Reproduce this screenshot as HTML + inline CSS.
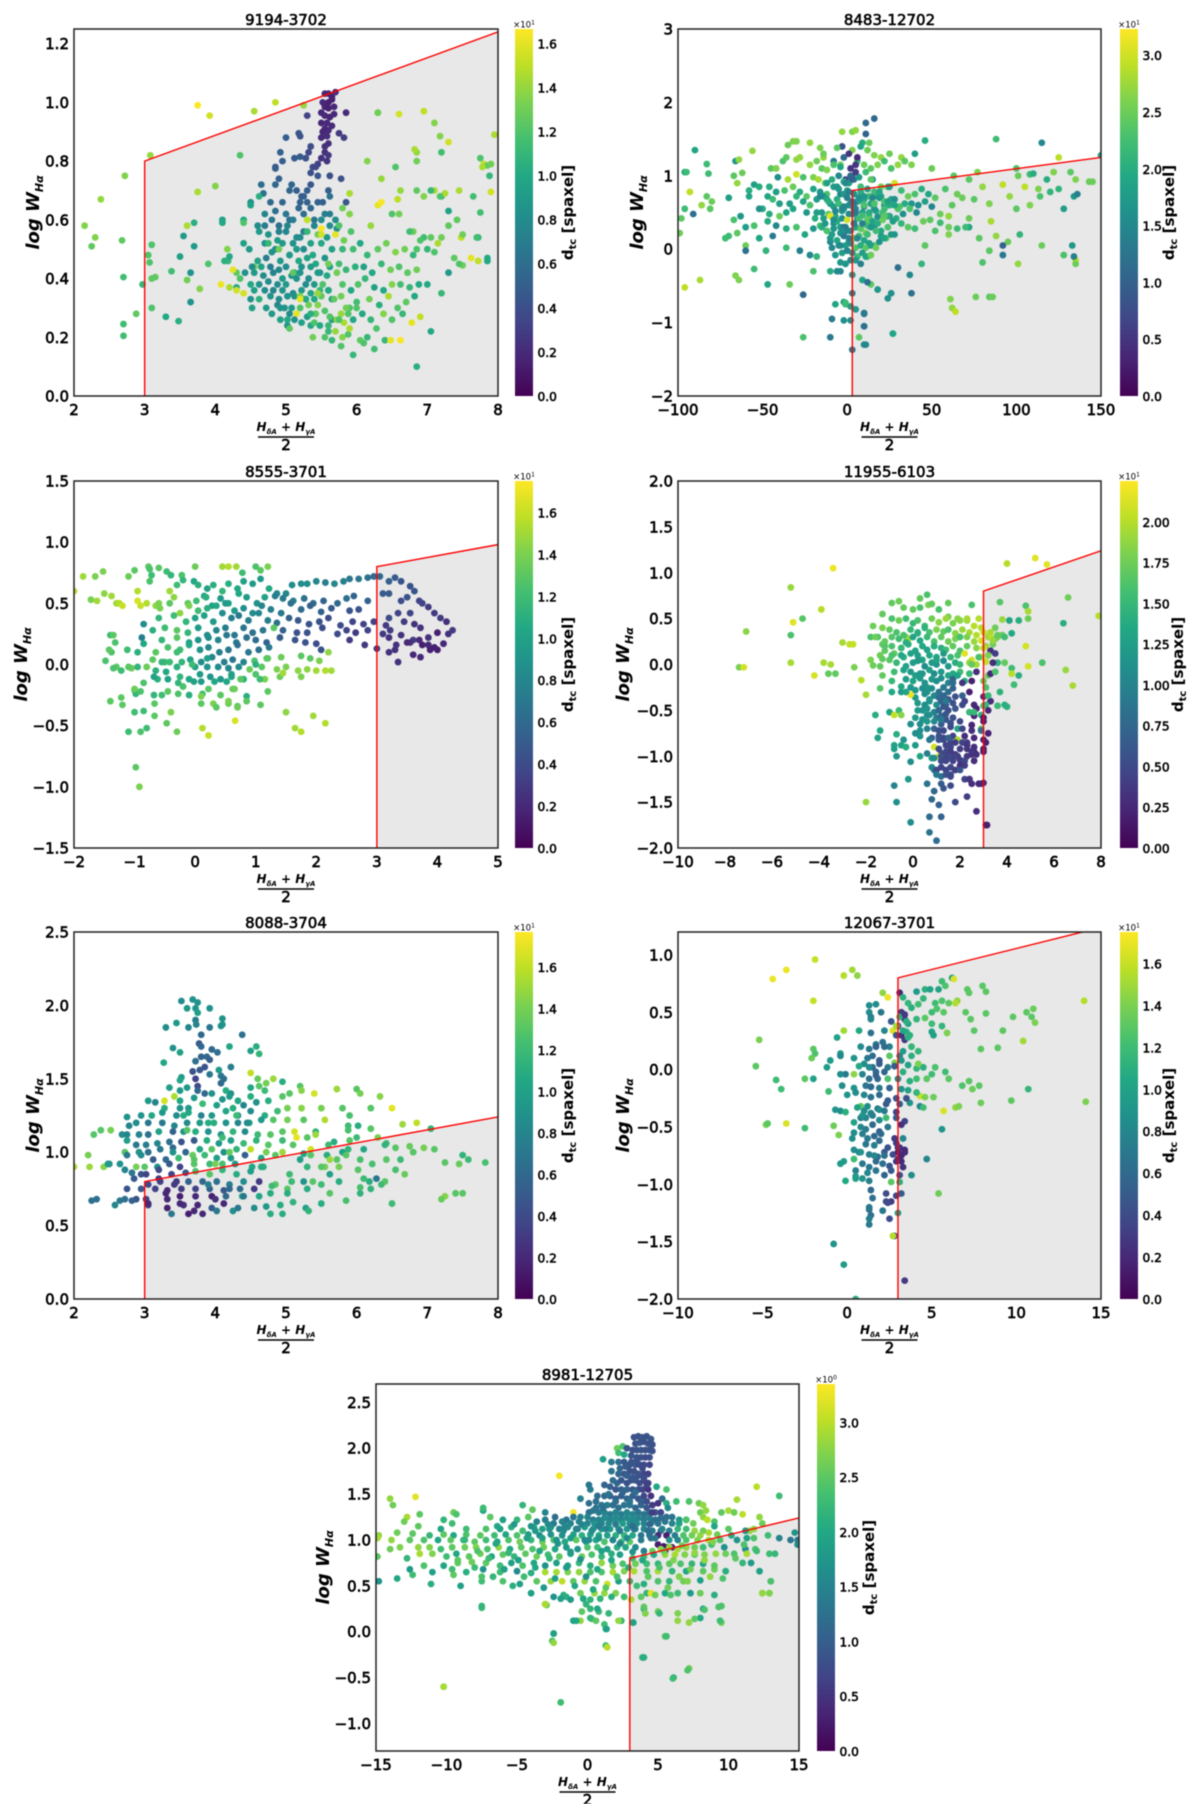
<!DOCTYPE html>
<html lang="en">
<head>
<meta charset="utf-8">
<title>Seven scatter panels of log W(H-alpha) against H-delta/H-gamma absorption</title>
<style>
html,body{margin:0;padding:0;background:#fff;}
#figure{display:block;width:1200px;height:1804px;filter:blur(.5px);}
text{font-family:"DejaVu Sans","Liberation Sans",sans-serif;fill:#000;}
.tick{font-size:15px;stroke:#000;stroke-width:.65px;}
.cb-tick{font-size:12.2px;stroke:#000;stroke-width:.55px;}
.title{font-size:15px;stroke:#000;stroke-width:.6px;}
.axis-label{font-style:italic;font-weight:bold;}
.cb-label{font-size:15px;font-weight:bold;}
.offset{font-size:8.5px;}
</style>
</head>
<body>
<svg id="figure" xmlns="http://www.w3.org/2000/svg" width="1200" height="1804" viewBox="0 0 1200 1804"><defs id="defs"></defs></svg>
<script>
/* ---------- data: panel 9194-3702 ---------- */
const p1Title = '9194-3702';
const p1XTicks = [2,3,4,5,6,7,8];
const p1YTicks = [0,0.2,0.4,0.6,0.8,1.0,1.2];
const p1CbTicks = [0,0.2,0.4,0.6,0.8,1.0,1.2,1.4,1.6];
const p1XRange = [2,8];
const p1YRange = [0,1.25];
const p1CbMax = 1.665;
const p1LineEnd = [8,1.24];
const p1X = [
5.55,5.6,5.65,5.7,5.52,5.6,5.65,5.55,5.6,5.68,
5.5,5.55,5.62,5.68,5.85,5.3,5.5,5.58,5.65,5.55,
5.52,5.6,5.58,5.5,5.75,5.82,5.18,5.2,5.6,5.55,
5.0,5.35,5.32,5.55,5.5,5.58,5.45,5.6,4.95,4.85,
4.92,5.12,5.2,5.28,4.85,5.38,5.35,5.42,5.62,5.78,
4.65,4.85,4.9,5.08,5.15,5.3,5.35,5.45,5.22,5.3,
4.68,4.78,5.05,5.2,5.25,5.35,5.45,5.6,5.62,5.9,
4.7,4.85,4.95,5.05,5.18,5.25,5.4,5.52,5.62,5.85,
4.5,4.8,4.9,5.0,5.1,5.25,5.4,5.55,5.62,5.7,
4.1,4.4,4.6,4.7,4.9,5.02,5.15,5.3,5.5,5.72,
4.48,4.62,4.75,4.88,5.0,5.1,5.2,5.35,5.45,5.58,
4.55,4.7,4.85,4.95,5.05,5.15,5.25,5.38,5.5,5.65,
4.4,4.6,4.72,4.8,4.92,5.05,5.18,5.3,5.42,5.55,
4.52,4.65,4.78,4.9,5.0,5.12,5.22,5.35,5.48,5.62,
4.42,4.55,4.68,4.82,4.95,5.08,5.2,5.32,5.45,5.58,
4.18,4.5,4.62,4.75,4.88,5.0,5.15,5.28,5.4,5.52,
4.3,4.55,4.7,4.82,4.95,5.1,5.22,5.35,5.48,5.6,
4.35,4.62,4.78,4.9,5.02,5.12,5.28,5.4,5.5,5.65,
4.2,4.4,4.52,4.72,4.88,4.98,5.08,5.2,5.32,5.45,
4.5,4.8,4.92,5.05,5.15,5.3,5.42,5.55,5.65,5.78,
4.92,5.02,5.12,5.22,5.35,5.48,5.6,5.72,5.82,5.95,
5.75,5.82,5.95,6.05,6.15,6.3,6.42,6.55,6.68,6.8,
5.72,5.85,5.98,6.1,6.22,6.35,6.48,6.6,6.72,6.85,
5.8,5.92,6.02,6.12,6.25,6.38,6.5,6.62,6.75,6.88,
5.68,5.78,5.9,6.0,6.18,6.32,6.45,6.58,6.7,6.82,
5.62,5.75,5.88,6.08,6.2,6.38,6.5,6.65,6.78,6.9,
5.02,5.28,5.4,5.6,5.8,5.88,6.05,6.15,6.28,6.4,
5.38,5.55,5.65,5.78,5.95,6.1,6.25,6.48,6.62,6.85,
7.05,7.0,7.2,7.3,7.38,7.5,7.62,7.72,7.85,7.95,
6.3,6.6,6.95,7.1,7.18,7.3,7.2,6.85,6.82,6.85,
7.75,7.8,7.85,7.9,7.78,7.88,7.9,7.65,7.75,7.45,
7.3,7.2,7.1,7.25,7.18,7.05,7.48,7.7,7.72,7.85,
7.42,7.5,7.2,7.15,7.1,7.05,7.0,6.95,6.9,6.85,
6.15,6.55,6.35,6.62,6.58,6.3,6.35,6.8,6.85,6.95,
6.2,7.3,5.9,5.8,6.5,6.75,6.6,7.45,5.2,5.5,
2.15,2.3,2.25,2.38,2.68,2.72,2.7,2.7,2.88,2.97,
2.7,3.08,3.1,3.1,3.05,3.07,3.15,3.1,3.3,3.38,
3.48,3.5,3.55,3.6,3.6,3.65,3.65,3.7,3.7,3.75,
3.75,3.92,4.0,3.78,3.9,4.08,4.13,4.17,4.2,4.1,
4.35,4.55,4.85,5.25,6.3,4.5,4.4,4.25,4.3,4.3,
4.9,5.1,5.3,5.5,5.6,5.8,5.85,5.7,5.2,6.0,
5.75,5.92,5.6,5.35,5.05,4.75,5.45,5.9,4.62,5.7
];
const p1Y = [
1.03,1.03,1.02,1.035,1.0,1.0,1.01,.985,.98,.985,
.965,.955,.95,.96,.965,.955,.93,.93,.92,.91,
.9,.905,.885,.88,.895,.88,.895,.885,.86,.85,
.88,.85,.83,.83,.81,.8,.79,.82,.8,.78,
.83,.81,.815,.81,.775,.78,.76,.78,.75,.74,
.72,.72,.74,.72,.7,.7,.72,.75,.68,.66,
.69,.66,.7,.66,.68,.64,.66,.7,.68,.69,
.62,.63,.66,.6,.64,.62,.6,.66,.62,.66,
.66,.6,.58,.62,.6,.56,.58,.62,.58,.6,
.6,.6,.58,.58,.56,.58,.54,.56,.6,.57,
.5,.56,.55,.53,.56,.52,.54,.52,.55,.54,
.44,.52,.5,.52,.48,.5,.5,.48,.52,.5,
.52,.46,.47,.49,.46,.48,.46,.47,.45,.47,
.44,.44,.44,.43,.44,.42,.44,.44,.42,.44,
.42,.42,.41,.42,.4,.41,.42,.4,.42,.41,
.46,.38,.38,.39,.38,.38,.4,.38,.38,.38,
.42,.36,.36,.36,.36,.35,.36,.35,.36,.36,
.4,.33,.34,.33,.34,.34,.33,.33,.34,.33,
.37,.35,.3,.3,.31,.3,.3,.3,.31,.31,
.33,.28,.3,.28,.28,.27,.28,.29,.26,.28,
.26,.24,.26,.25,.24,.24,.24,.26,.25,.26,
.58,.53,.5,.52,.48,.5,.52,.49,.5,.48,
.42,.43,.44,.44,.42,.45,.43,.44,.42,.43,
.38,.36,.38,.4,.37,.36,.38,.38,.37,.38,
.33,.34,.3,.32,.33,.31,.34,.3,.32,.34,
.27,.26,.28,.28,.26,.28,.26,.28,.25,.27,
.26,.33,.25,.22,.2,.21,.19,.2,.23,.19,
.2,.2,.19,.17,.14,.18,.16,.19,.19,.1,
.22,.38,.35,.42,.47,.445,.47,.54,.46,.89,
.965,.96,.97,.93,.885,.865,.83,.83,.84,.8,
.81,.79,.785,.79,.78,.75,.695,.68,.625,.7,
.63,.68,.7,.69,.68,.7,.54,.54,.46,.47,
.6,.55,.54,.52,.49,.54,.5,.54,.53,.5,
.8,.78,.74,.7,.67,.65,.66,.56,.7,.68,
.58,.58,.62,.64,.62,.56,.62,.45,.34,.57,
.58,.54,.51,.67,.53,.75,.405,.245,.28,.38,
.205,.82,.515,.40,.48,.455,.405,.30,.27,.425,
.255,.475,.545,.395,.58,.42,.32,.51,.59,.695,
.99,.955,.715,.365,.45,.38,.46,.5,.475,.59,
.82,.97,1.0,.99,.965,.65,.59,.43,.37,.36,
.5,.42,.6,.55,.45,.5,.3,.22,.33,.3,
.45,.56,.36,.28,.23,.52,.35,.23,.68,.55
];
const p1D = [
.2,.18,.15,.22,.2,.15,.15,.18,.15,.2,
.18,.2,.18,.2,.2,.32,.18,.2,.2,.2,
.18,.2,.22,.2,.28,.3,.45,.42,.22,.24,
.5,.38,.36,.24,.24,.25,.3,.28,.5,.45,
.52,.48,.48,.42,.5,.38,.4,.35,.4,.42,
.6,.55,.52,.55,.5,.5,.45,.45,.5,.5,
.62,.58,.55,.52,.5,.55,.52,.5,.62,1.45,
.75,.6,.55,.6,.55,.6,.65,.5,.7,.45,
.85,.65,.6,.65,.7,.7,.75,.7,.8,.8,
.95,1.0,.8,.7,.72,.75,.8,1.1,.8,.8,
.9,.9,.85,.9,.75,.85,.8,.95,1.3,.9,
1.3,.85,.8,.9,.95,.9,.8,1.0,1.0,.95,
.95,.95,.7,.85,.9,.9,1.0,.95,1.0,.85,
.8,.95,.7,.75,.8,.9,.85,.9,.85,.95,
.85,.9,.8,.75,.9,.85,.85,.8,.9,1.0,
1.1,1.0,.85,.8,.8,.9,.85,.8,.9,1.2,
1.25,.95,.8,.75,.85,.8,.9,.95,1.1,.85,
1.2,1.05,.85,.8,.85,.85,.8,1.0,1.25,.9,
1.45,1.55,.95,.9,.75,.85,.9,1.2,1.3,1.35,
.85,.9,.85,.8,1.6,.9,1.25,1.2,.95,1.4,
.95,.85,.85,.95,1.0,1.0,1.1,1.4,1.45,1.0,
1.2,1.3,1.15,1.0,1.1,1.25,1.3,1.35,1.3,1.1,
1.3,1.1,1.05,.95,1.0,1.1,1.3,1.2,1.25,1.3,
1.2,1.0,1.2,1.1,.95,1.0,1.35,1.15,1.1,1.0,
1.25,1.3,1.2,1.15,1.3,1.05,1.45,1.2,1.25,1.0,
1.2,1.2,1.2,1.0,1.1,1.35,1.2,1.1,1.6,1.5,
1.0,1.0,1.2,1.1,1.35,1.2,1.25,1.1,1.2,1.1,
1.3,1.2,1.1,1.2,1.1,1.2,1.15,1.6,1.65,1.05,
1.0,1.0,1.1,.9,1.25,1.3,1.6,1.1,1.0,1.45,
1.25,1.55,1.5,1.35,1.35,1.55,1.15,1.4,1.45,1.3,
1.2,1.5,1.25,1.3,1.45,1.1,1.55,1.15,1.15,1.45,
.95,1.1,1.45,1.45,1.2,1.1,1.5,1.15,1.5,1.0,
1.25,1.3,1.3,1.45,1.2,1.25,1.1,1.15,1.2,1.2,
1.35,1.2,1.4,1.4,1.5,1.6,1.65,1.3,1.25,1.35,
1.4,1.25,1.35,1.3,1.2,1.15,1.3,1.2,1.35,1.65,
1.35,1.35,1.25,1.4,1.25,1.35,1.15,1.15,1.25,1.1,
1.15,1.4,1.2,1.25,1.2,1.2,1.25,1.2,1.0,1.15,
1.05,.95,.9,1.3,1.45,.85,.85,.9,1.05,1.45,
1.66,1.55,1.35,1.35,1.2,1.62,1.05,1.35,1.0,1.0,
1.2,1.45,1.5,1.4,1.3,.95,1.2,1.6,1.0,1.55,
1.3,1.25,1.5,1.55,1.3,1.1,1.3,1.4,1.6,1.2,
1.15,1.2,1.0,1.05,1.25,1.1,1.4,1.45,1.05,1.6
];

/* ---------- data: panel 8483-12702 ---------- */
const p2Title = '8483-12702';
const p2XTicks = [-100,-50,0,50,100,150];
const p2YTicks = [-2,-1,0,1,2,3];
const p2CbTicks = [0,0.5,1.0,1.5,2.0,2.5,3.0];
const p2XRange = [-100,150];
const p2YRange = [-2,3];
const p2CbMax = 3.23;
const p2LineEnd = [150,1.25];
const p2X = [
16,11,11,3,-3,9,5,13,-14,-4,
-90,-32,-30,-35,-22,-16,-14,-8,-3,3,
-6,-2,1,8,12,16,20,25,32,34,
-96,-83,-66,-64,-56,-45,-42,-38,-36,-30,
-28,-22,-18,-15,-12,-8,-4,2,6,10,
14,18,22,26,30,34,38,40,46,50,
-95,-82,-67,-62,-55,-46,-41,-35,-30,-26,
-20,-17,-13,-9,-5,-1,3,7,11,15,
-93,-83,-65,-58,-52,-47,-42,-37,-32,-28,
-24,-20,-16,-12,-8,-4,0,4,8,12,
16,20,24,28,32,36,40,44,48,52,
-96,-86,-80,-70,-58,-50,-44,-40,-34,-30,
-26,-22,-18,-14,-10,-6,-2,2,6,10,
14,18,22,26,30,34,38,42,46,50,
-98,-91,-81,-67,-63,-52,-46,-40,-36,-32,
-24,-19,-15,-11,-7,-3,1,5,9,13,
17,21,25,29,33,37,41,45,49,55,
-99,-72,-65,-60,-55,-47,-42,-36,-30,-25,
-20,-16,-12,-8,-4,0,4,8,12,16,
20,24,28,32,36,40,52,60,65,72,
-16,-12,-8,-5,-2,1,4,7,10,13,
16,19,22,25,28,31,-14,-10,-6,-3,
0,3,6,9,12,15,18,21,24,27,
-12,-8,-4,-1,2,5,8,11,14,17,
20,23,26,-10,-6,-2,1,4,7,10,
13,16,19,22,-9,-5,-1,2,5,8,
11,14,17,-7,-3,0,3,6,9,12,
-4,-1,2,5,8,11,14,-2,1,4,
63,77,88,100,115,125,135,143,118,108,
65,72,80,92,101,110,122,132,145,62,
58,68,75,84,96,105,113,125,134,150,
100,108,114,120,128,136,55,60,72,85,
60,70,78,88,95,102,115,128,135,84,
-70,-60,-52,-44,-60,-48,-36,-28,-22,-18,
-96,-87,-66,-64,-55,-47,-34,-20,-6,-1,
-10,-4,3,9,14,18,3,12,-26,26,
-2,-1,2,5,10,-9,2,10,7,11,
38,27,24,30,37,44,46,61,62,64,
76,84,86,101,135,134,133,92,92,80,
3,-10,-26,10,27,-2,10,10,-7,-1,
-15,-8,-3,4,10,16,22,28,-6,8,
0,-2,6,12,18,24,-12,2,14,-18,
5,1,9,15,20,-10,-4,3,7,-1,
5,5,6,3,-13,-11,-9,-7,-5,-3,
-2,1,4,7,10,13,16,19,22,25
];
const p2Y = [
1.78,1.72,1.57,1.6,1.6,1.45,1.62,1.45,1.25,1.15,
1.35,1.47,1.47,1.42,1.45,1.38,1.3,1.2,1.4,1.35,
1.38,1.25,1.3,1.4,1.35,1.28,1.25,1.3,1.25,1.2,
1.05,1.16,1.2,1.22,1.34,1.1,1.1,1.2,1.25,1.22,
1.25,1.15,1.2,1.1,1.08,1.15,1.12,1.1,1.2,1.15,
1.1,1.15,1.2,1.1,1.15,1.2,1.15,1.3,1.48,1.1,
1.05,1.03,1.0,1.04,.88,.85,.98,.95,1.02,.98,
.98,.95,.9,.95,1.0,.95,.98,.98,1.05,.95,
.78,.72,.9,.8,.85,.72,.78,.8,.85,.78,
.72,.82,.78,.75,.85,.75,.8,.75,.78,.82,
.78,.72,.85,.9,.8,.72,.75,.82,.75,.7,
.55,.6,.65,.7,.72,.55,.68,.62,.62,.72,
.65,.6,.68,.72,.62,.68,.55,.62,.65,.68,
.62,.72,.6,.68,.55,.62,.62,.6,.65,.58,
.42,.48,.55,.4,.45,.55,.48,.45,.5,.55,
.5,.42,.5,.48,.45,.52,.48,.55,.5,.45,
.52,.5,.45,.42,.48,.55,.5,.38,.4,.36,
.22,.15,.22,.3,.32,.38,.32,.28,.3,.2,
.28,.32,.25,.35,.3,.25,.35,.28,.32,.3,
.25,.3,.2,.35,.3,.28,.25,.3,.28,.3,
.72,.68,.58,.62,.75,.6,.55,.66,.58,.72,
.62,.7,.65,.6,.68,.58,.42,.45,.38,.42,
.4,.48,.42,.46,.4,.38,.44,.4,.45,.38,
.25,.28,.22,.3,.25,.3,.28,.22,.3,.25,
.18,.15,.2,.1,.12,.18,.1,.15,.18,.12,
.08,.05,.1,.15,.02,.05,.05,.08,.02,.05,
.02,.05,.02,-.08,-.05,-.02,-.05,-.1,-.05,-.1,
-.18,-.2,-.15,-.15,-.2,-.1,-.08,.92,.9,.95,
1.0,1.05,1.5,1.1,1.45,1.25,.95,.92,.95,1.02,
.75,.95,.85,.88,1.0,1.03,1.05,1.05,.92,.6,
.82,.7,.68,.62,.72,.85,.82,.82,.72,1.28,
.55,.6,.72,.78,.55,.75,.48,.45,.42,.38,
.2,.3,.15,.18,.1,.2,.05,-.08,-.15,-.02,
.18,.05,.15,.18,-.02,-.02,.02,-.02,-.08,-.1,
-.52,-.42,-.36,-.42,-.27,-.48,-.48,-.3,-.3,-.2,
-.3,-.3,-.35,-.42,-.48,-.55,-.6,-.45,-.62,-.6,
-.72,-.75,-.78,-.82,-.88,-.95,-.97,-1.05,-1.2,-1.3,
-.6,-1.15,-.67,-.25,-.35,-.2,.05,-.68,-.8,-.85,
-.65,-.65,-.65,-.2,-.2,-.1,.05,.05,-.08,-.18,
-1.37,-1.2,-1.2,-1.3,-1.15,-.97,-1.05,-.87,-.75,-.73,
.3,.4,.55,.35,.6,.55,.45,.6,.85,.85,
.7,.3,.15,.2,.35,.65,.9,1.0,.95,.5,
.5,.15,.35,.7,.85,.15,.05,.65,.7,.9,
1.15,1.05,1.25,.95,.35,.65,.2,.52,.82,.25,
.58,.78,.62,.42,.72,.5,.62,.78,.55,.85
];
const p2D = [
1.1,1.1,1.05,2.6,2.7,2.0,2.7,2.5,2.7,2.5,
1.9,2.6,2.6,2.5,2.7,2.6,2.5,1.3,.8,2.6,
2.4,1.1,.5,1.9,2.5,2.6,2.7,2.5,2.7,2.4,
1.9,2.2,1.7,2.7,2.7,2.4,2.6,2.3,2.4,2.7,
2.7,2.7,2.5,2.4,2.6,2.3,1.9,.5,2.2,2.5,
2.4,2.6,2.2,2.3,2.7,2.4,2.6,1.8,2.0,2.5,
2.2,2.2,2.4,2.5,1.8,2.0,1.6,2.8,3.0,2.3,
2.6,2.8,2.5,2.0,1.5,.7,.5,1.8,2.2,1.6,
2.9,2.4,2.7,2.0,2.0,1.9,1.8,2.3,2.5,2.0,
2.4,1.9,1.7,2.3,1.8,1.5,1.9,1.6,2.0,1.8,
2.2,1.9,2.3,3.0,2.2,2.5,2.3,2.0,1.9,2.4,
2.2,2.7,2.5,1.8,1.9,2.0,2.2,1.8,1.8,2.1,
1.9,2.3,1.8,1.6,1.7,2.0,1.8,1.6,1.9,2.0,
1.8,2.1,1.7,1.9,2.3,2.0,1.7,1.6,1.8,1.5,
2.4,1.2,2.4,2.3,1.7,1.6,2.0,2.5,1.9,1.9,
1.7,2.0,1.7,2.4,1.9,1.8,1.5,1.7,1.8,2.3,
1.9,2.2,1.7,2.0,1.6,2.3,1.5,2.5,2.4,2.2,
2.5,2.2,2.4,1.8,2.3,2.0,1.5,2.0,2.3,1.9,
1.7,2.3,2.6,1.6,1.8,1.5,1.7,1.9,2.2,1.6,
1.9,2.3,1.7,2.1,2.4,2.2,2.3,2.5,2.2,1.9,
1.5,1.9,1.8,2.2,1.7,1.6,1.4,1.8,1.5,2.2,
2.4,1.7,2.3,2.0,1.6,2.3,1.8,3.1,2.0,1.6,
3.0,1.5,1.8,2.2,2.4,1.9,1.6,2.5,2.0,1.8,
2.3,1.7,1.6,1.4,1.5,1.8,2.4,2.5,1.7,2.2,
1.8,2.4,1.7,1.5,1.9,1.3,1.7,2.5,2.2,1.9,
1.8,2.4,1.6,1.9,1.5,1.7,1.8,1.6,2.3,2.0,
2.4,1.8,2.5,1.7,1.8,1.5,1.6,2.2,1.8,2.4,
1.7,1.6,1.5,1.7,1.4,1.9,2.5,2.0,1.8,1.6,
2.4,2.6,2.2,2.3,1.5,2.9,2.6,2.5,2.0,2.2,
2.5,2.4,2.7,2.9,2.5,2.0,2.6,2.4,2.5,2.4,
2.3,2.5,2.4,2.6,2.7,2.9,2.6,2.1,1.7,1.8,
2.4,2.6,2.3,2.1,1.8,1.4,2.5,2.7,2.5,2.8,
2.6,2.2,2.4,2.7,2.5,2.1,2.5,2.3,2.9,2.4,
2.2,2.5,1.9,1.3,1.2,2.1,2.2,1.4,1.5,2.1,
2.9,2.8,2.6,2.6,2.2,1.9,2.5,2.3,1.5,1.7,
2.0,1.5,1.7,1.9,2.4,1.7,1.4,1.2,1.1,1.6,
1.8,2.2,1.8,1.7,1.2,1.3,1.6,1.8,2.4,1.5,
1.2,1.9,1.6,1.2,1.5,2.1,2.4,2.6,2.7,2.9,
2.5,2.4,2.5,2.7,2.5,1.4,1.7,1.0,1.3,2.3,
1.3,1.3,2.3,1.5,1.9,1.6,1.2,1.3,1.9,2.2,
2.0,1.6,1.5,1.4,2.3,1.7,2.4,1.9,1.7,2.2,
1.4,1.3,1.5,2.2,2.0,1.8,1.8,1.1,2.4,1.8,
1.3,1.4,1.4,1.5,2.5,1.7,1.5,1.3,1.6,1.5,
.5,.6,.4,1.0,1.7,2.0,1.8,1.5,1.7,1.6,
1.5,1.4,1.3,2.2,1.7,2.0,2.3,1.9,2.2,1.8
];

/* ---------- data: panel 8555-3701 ---------- */
const p3Title = '8555-3701';
const p3XTicks = [-2,-1,0,1,2,3,4,5];
const p3YTicks = [-1.5,-1.0,-0.5,0,0.5,1.0,1.5];
const p3CbTicks = [0,0.2,0.4,0.6,0.8,1.0,1.2,1.4,1.6];
const p3XRange = [-2,5];
const p3YRange = [-1.5,1.5];
const p3CbMax = 1.75;
const p3LineEnd = [5,0.98];
const p3X = [
-2,-1.85,-1.65,-1.52,-1.1,-1,-.77,-.6,-.47,-.22,
0,.45,.55,.68,1,1.2,1.08,.78,-.75,-.72,
-1.72,-1.62,-1.5,-1.38,-1.28,-.95,-.75,-.4,-.3,-.2,
-1.3,-1.25,-1.2,-.95,-.9,-.8,-.65,-.6,-.42,-.35,
-.02,.05,.2,.3,.45,.55,.7,.8,.95,1.08,
1.22,1.35,1.5,1.6,1.75,1.85,2,2.15,2.3,2.45,
2.55,2.7,2.85,2.95,3.05,3.2,3.3,3.4,3.55,.15,
-.12,.02,.18,.28,.42,.55,.72,.85,1.02,1.15,
1.32,1.45,1.62,1.8,1.95,2.12,2.35,2.5,2.62,2.85,
3.1,3.2,3.4,3.5,3.62,3.7,-.58,-.42,-.25,-.1,
.05,.2,.35,.5,.65,.8,.95,1.1,1.25,1.42,
1.58,1.75,1.9,2.08,2.25,2.55,2.7,3.2,3.35,3.55,
3.75,3.85,-.85,-.6,-.35,-.15,0,.15,.3,.45,
.6,.72,.88,1.05,1.2,1.35,1.55,1.7,1.88,2.05,
2.2,2.4,2.6,2.78,2.95,3.15,3.45,3.62,3.95,4.05,
4.15,4.25,-.88,-.7,-.5,-.3,-.12,.05,.2,.35,
.5,.65,.8,.95,1.12,1.3,1.45,1.68,1.85,2.1,
2.35,2.5,2.65,2.85,3.1,3.22,3.4,3.6,3.72,3.85,
4.0,4.18,-1.4,-1.32,-.85,-.55,-.3,-.1,.05,.22,
.38,.52,.68,.85,1,1.18,1.4,1.65,1.82,2.0,
2.55,2.8,3.0,3.2,3.32,3.55,3.7,3.85,3.95,4.1,
-1.38,-1.12,-.95,-.65,-.45,-.25,-.1,.08,.22,.4,
.55,.7,.88,1.05,1.22,1.75,2.08,3.3,3.5,3.75,
3.88,4.0,-1.48,-1.3,-1.05,-.95,-.7,-.5,-.3,-.08,
.1,.28,.48,.62,.8,.98,1.18,1.42,1.9,2.05,
2.2,3.2,3.35,3.6,3.72,-1.1,-.8,-.65,-.42,-.22,
0,.2,.38,.55,.72,.9,1.1,1.35,1.5,1.7,
1.85,2.0,-.62,-.45,-.25,-.1,.08,.25,.42,.6,
.8,1.0,1.15,1.4,-1.35,-1.22,-.68,-.48,-.28,-.02,
.1,.32,.52,.75,1.07,1.75,2.15,2.25,-1.0,-.85,
-.45,-.2,.12,.22,.65,-.98,-1.0,-.9,-.67,-.4,
.1,.3,.55,.7,.85,1.5,1.65,1.75,1.95,2.15,
-.92,-.98,-1.0,-.85,-1.1,-.9,-.8,-.67,-.47,-.3,
.12,.22,.66,-1.4,-1.22,-1.2,-.68,-.55,-.28,.1,
.35,.55,.7,.85,1.08,1.2,.62,.42,-.1,-.2,
-1.42,-1.35,-.55,-.3,-.05,.2,.6,1,1.2,1.45
];
const p3Y = [
.6,.72,.72,.76,.72,.77,.8,.79,.76,.73,
.8,.8,.8,.8,.8,.8,.77,.75,.78,.73,
.53,.52,.58,.56,.5,.6,.68,.73,.65,.69,
.5,.5,.48,.52,.48,.5,.48,.5,.6,.55,
.68,.65,.62,.65,.6,.66,.62,.68,.66,.7,
.62,.58,.58,.65,.66,.66,.68,.67,.66,.68,
.7,.7,.71,.72,.72,.68,.71,.68,.64,.56,
.5,.52,.55,.48,.54,.5,.58,.55,.5,.55,
.56,.54,.52,.54,.5,.52,.5,.54,.56,.52,
.58,.58,.52,.55,.6,.52,.46,.5,.42,.48,
.44,.46,.48,.5,.44,.46,.42,.48,.45,.42,
.5,.45,.48,.43,.46,.44,.45,.38,.42,.42,
.5,.47,.33,.38,.4,.35,.38,.4,.35,.42,
.38,.4,.36,.42,.36,.34,.38,.36,.33,.35,
.38,.32,.35,.33,.35,.32,.35,.33,.42,.38,
.35,.28,.22,.28,.3,.28,.26,.3,.24,.28,
.3,.24,.3,.26,.28,.3,.28,.26,.26,.3,
.25,.28,.26,.28,.25,.28,.24,.2,.3,.22,
.26,.25,.24,.18,.17,.2,.22,.18,.2,.22,
.2,.24,.18,.22,.2,.18,.22,.2,.18,.17,
.2,.16,.13,.22,.16,.18,.2,.16,.14,.17,
.1,.12,.1,.1,.14,.12,.16,.12,.14,.1,
.12,.16,.1,.12,.14,.07,.12,.12,.18,.16,
.12,.12,.03,-.02,-.03,-.02,.04,.02,-.02,.04,
.02,.06,.02,.04,.02,.03,.05,.06,.05,.03,
.1,.1,.02,.08,.06,-.02,-.02,-.05,.02,.02,
-.02,-.02,-.02,-.03,-.02,-.04,-.02,-.04,-.02,-.05,
-.04,-.05,-.12,-.12,-.1,-.12,-.08,-.1,-.12,-.1,
-.12,-.08,-.12,-.1,-.03,-.05,-.1,-.06,-.15,-.14,
-.14,-.14,-.14,-.12,-.12,-.1,-.05,-.05,-.21,-.15,
-.22,-.18,-.24,-.2,-.2,-.24,-.2,-.22,-.32,-.39,
-.26,-.32,-.32,-.34,-.26,-.39,-.52,-.55,-.42,-.48,
-1.0,-.84,-.39,-.38,-.55,-.55,-.52,-.42,-.48,-.55,
-.52,-.58,-.46,-.3,-.27,-.33,-.25,-.25,-.24,-.32,
-.35,-.3,-.35,-.3,-.33,-.22,-.2,-.25,-.25,-.18,
.12,.24,.02,.1,0,.05,-.08,0,.05,-.07
];
const p3D = [
1.55,1.5,1.4,1.4,1.35,1.3,1.3,1.3,1.2,1.25,
1.35,1.5,1.55,1.5,1.25,1.4,1.3,1.2,1.25,1.2,
1.4,1.5,1.45,1.5,1.6,1.55,1.25,1.15,1.2,1.15,
1.5,1.55,1.6,1.65,1.6,1.55,1.45,1.4,1.5,1.45,
1.05,1.1,1.0,1.1,1.15,1.1,1.05,1.0,.95,.95,
1.05,.8,.8,.85,.85,.85,.8,.75,.8,.75,
.7,.7,.65,.6,.6,.55,.5,.45,.45,1.0,
1.3,1.2,1.1,1.0,.95,1.0,1.05,.95,.9,1.0,
.75,.7,.75,.65,.6,.55,.6,.65,.55,.55,
.5,.5,.4,.45,.45,.35,1.4,1.3,1.45,1.4,
1.2,1.1,1.05,.95,.95,.85,.85,.8,.75,.7,
.65,.6,.55,.55,.5,.45,.45,.4,.35,.35,
.35,.3,.85,1.15,1.2,1.15,1.0,1.0,.95,.85,
.75,.7,.75,.8,.75,.65,.55,.5,.45,.45,
.4,.4,.35,.35,.35,.3,.3,.25,.3,.3,
.25,.3,.75,1.1,1.2,1.3,1.15,.95,.85,.8,
.75,.7,.7,.65,.7,1.3,.55,.45,.45,.4,
.4,.35,.3,.35,.3,.3,.25,.3,.25,.25,
.15,.25,1.2,1.25,1.05,1.15,1.3,1.0,.9,.85,
.8,.7,.7,.65,.6,.55,.5,.45,.45,.4,
.3,.3,.3,.25,.25,.25,.2,.2,.15,.2,
1.25,1.2,1.1,1.3,1.25,1.2,1.05,.9,.8,.75,
.7,.65,.7,.65,.7,1.3,.45,.25,.2,.15,
.15,.15,1.25,1.3,1.35,1.15,1.3,1.2,1.1,1.0,
.85,.8,.75,.7,.8,1.25,1.3,1.35,1.3,1.4,
1.45,.25,.25,.2,.2,1.3,1.35,1.1,1.2,1.15,
1.0,.9,.85,.8,.85,1.35,1.3,1.4,1.4,1.45,
1.45,1.5,1.1,1.0,1.15,1.05,.95,.9,.95,1.0,
1.1,1.25,1.4,1.35,1.25,1.2,1.0,1.05,1.15,1.0,
.95,1.05,1.05,1.3,1.2,1.4,1.55,1.5,1.2,1.25,
1.3,1.35,1.2,1.3,1.35,1.15,1.35,1.25,1.3,1.4,
1.4,1.4,1.35,1.3,1.1,1.45,1.5,1.55,1.5,1.55,
1.4,1.3,1.2,1.2,1.2,1.25,1.2,1.3,1.3,1.35,
1.55,1.6,1.65,1.3,1.3,1.3,1.15,1.2,1.25,1.3,
1.3,1.4,1.35,1.3,1.3,1.3,1.35,1.3,1.1,1.25,
1.3,1.3,1.15,1.2,1.2,1.0,1.0,1.1,1.3,1.5
];

/* ---------- data: panel 11955-6103 ---------- */
const p4Title = '11955-6103';
const p4XTicks = [-10,-8,-6,-4,-2,0,2,4,6,8];
const p4YTicks = [-2.0,-1.5,-1.0,-0.5,0,0.5,1.0,1.5,2.0];
const p4CbTicks = [0,0.25,0.5,0.75,1.0,1.25,1.5,1.75,2.0];
const p4XRange = [-10,8];
const p4YRange = [-2,2];
const p4CbMax = 2.25;
const p4LineEnd = [8,1.24];
const p4X = [
-3.4,-5.2,-3.9,-5.1,-4.7,-7.1,-5.2,-5.2,-7.4,-7.2,
-3.8,-3.5,-3.3,-4.2,-3.6,-3,-2.7,-2.55,-2.5,-2.2,
-2,-1.8,-1.5,-1.3,-1.2,-1.4,-1.8,-1.7,-1.4,-1,
-.8,-.5,-.3,-.2,.6,.3,.65,1.5,2.5,-.9,
-.6,-.4,0,.3,.8,1.1,1.5,1.9,2.3,2.8,
-1.3,-.9,-.6,-.3,0,.2,.5,.8,1.1,1.4,
1.7,2,2.3,2.6,2.9,3.3,3.6,3.8,-1.7,-1.3,
-1,-.7,-.4,-.1,.2,.5,.7,1,1.3,1.5,
1.8,2.1,2.4,2.7,3,3.2,3.5,-1.6,-1.2,-.9,
-.6,-.3,0,.3,.6,.9,1.2,1.5,1.8,2,
2.3,2.6,2.9,3.1,3.4,-1.2,-.9,-.5,-.2,.1,
.4,.6,.9,1.2,1.4,1.7,2,2.3,2.7,3,
3.3,3.6,-1.3,-.9,-.4,-.1,.2,.4,.7,1,
1.3,1.6,1.9,2.2,2.5,2.9,3.2,3.5,-.7,-.3,
0,.2,.5,.8,1,1.3,1.5,1.8,2,2.4,
2.7,3.1,3.4,-1.3,-.8,-.4,-.1,.1,.4,.7,
.9,1.2,1.5,1.7,2,2.4,2.7,3.2,-.9,-.3,
0,.3,.5,.8,1,1.2,1.5,1.7,1.9,2.2,
3,3.3,-.5,-.1,.1,.4,.6,.8,1.1,1.3,
1.5,1.7,2.1,2.5,3.1,3.5,-1.4,-.9,-.5,.1,
.5,.7,.9,1.1,1.3,1.5,1.8,2.1,2.4,3,
-1.6,-1,-.1,.2,.5,.7,1,1.2,1.4,1.7,
2.2,2.7,3,3.3,.2,.4,.6,.9,1.1,1.3,
1.5,1.8,2.1,2.6,3.1,.1,.4,.7,1,1.2,
1.4,1.7,2.4,2.9,3,3.2,.3,.6,.9,1.2,
1.4,1.6,2,2.6,3,-.1,.3,.6,.9,1.1,
1.3,1.6,1.9,2.1,2.5,-1.4,-.7,-.4,.1,.3,
.8,1.1,1.3,1.7,2.2,2.5,2.9,3.2,-1.5,-.8,
.1,.7,1.1,1.3,1.6,1.9,2.1,2.3,2.6,3,
-.6,-.5,.9,1.1,1.4,1.6,1.8,2,2.3,2.6,
3.1,-.8,-.3,1.2,1.4,1.6,1.8,2.3,2.5,3,
-.5,.3,.8,1.1,1.4,1.6,1.9,2.3,2.6,3,
-.1,.6,.9,1.2,1.4,1.7,2,2.2,2.6,2.7,
-.8,-.7,.8,.9,1,1.2,1.4,1.6,1.8,2,
-.8,-.2,1,1.2,1.4,1.6,2,2.2,2.4,2.8,
2.9,3,-2,-.7,.6,.9,1.2,1.6,2.4,2.5,
.8,1.1,1.3,2.3,2.7,-.1,.7,1.2,3.1,1.8,
.7,1,4,5.2,5.7,6.6,6.4,7.9,6.8,3.7,
3.8,4.8,4.9,4.1,4.5,4.9,5.5,6.5,4.9,4.2,
3.9,4.2,4.2,4.5,4.8,3.9,3.5,3.6,3.3,3.4,
2.5,2.8,4,4.3,3.9,3.6,3.7,3.2,2.6,2.9,
-.3,.3,.6,1,1.4,1.7,2,.2,.9,-.5,
.6,1.2,1.5,1.8,2.2,1.6,1.2,2.5,2.8,3.15
];
const p4Y = [
1.05,.84,.6,.46,.5,.36,.32,.02,-.03,-.03,
.02,.0,-.1,-.12,-.1,.24,.22,.22,-.03,-.17,
-.33,.3,.3,.22,.15,.1,.05,-.01,-.02,.05,
.12,.18,.3,.28,.76,.72,.65,.67,.65,.67,
.69,.62,.6,.62,.66,.6,.52,.5,.48,.5,
.55,.5,.48,.5,.45,.48,.42,.5,.46,.5,
.45,.48,.5,.42,.4,.35,.3,.32,.42,.4,
.38,.35,.32,.38,.34,.4,.35,.38,.36,.38,
.34,.38,.35,.32,.35,.3,.28,.3,.25,.3,
.28,.24,.3,.26,.3,.25,.3,.25,.28,.3,
.3,.25,.26,.2,.22,.2,.2,.18,.22,.15,
.2,.16,.2,.18,.16,.2,.15,.2,.18,.18,
.15,.02,.06,.1,.08,.12,.1,.05,.1,.08,
.12,.08,.1,.12,.05,.08,.1,.12,.02,-.02,
.02,.04,-.02,.02,0,.04,-.02,.02,0,.02,
.0,.03,.02,-.12,-.08,-.06,-.08,-.12,-.1,-.06,
-.1,-.08,-.12,-.1,-.08,-.1,-.08,-.12,-.18,-.16,
-.18,-.15,-.2,-.16,-.18,-.15,-.2,-.16,-.12,-.18,
-.18,-.1,-.3,-.25,-.28,-.26,-.3,-.26,-.3,-.25,
-.3,-.26,-.2,-.18,-.25,-.08,-.26,-.3,-.24,-.36,
-.32,-.38,-.34,-.36,-.34,-.38,-.35,-.34,-.3,-.35,
-.55,-.52,-.33,-.42,-.44,-.4,-.44,-.4,-.44,-.42,
-.4,-.48,-.45,-.4,-.5,-.5,-.48,-.52,-.5,-.46,
-.5,-.48,-.44,-.44,-.44,-.58,-.6,-.55,-.58,-.56,
-.54,-.58,-.52,-.55,-.58,-.5,-.65,-.62,-.62,-.65,
-.6,-.64,-.62,-.56,-.62,-.65,-.72,-.7,-.7,-.72,
-.72,-.68,-.7,-.7,-.66,-.72,-.76,-.82,-.75,-.78,
-.8,-.78,-.8,-.78,-.78,-.72,-.7,-.75,-.8,-.88,
-.88,-.82,-.82,-.82,-.85,-.82,-.85,-.85,-.8,-.82,
-.5,-.88,-.9,-.92,-.88,-.9,-.85,-.92,-.88,-.9,
-.85,-.92,-.9,-.97,-.95,-.95,-.98,-.92,-.98,-.92,
-.55,-1.0,-1.02,-1.0,-1.0,-1.02,-1,-1.0,-.95,-.95,
-1.06,-.97,-1.02,-1.05,-1.05,-1.05,-1.04,-1.05,-1.05,-.98,
-.55,-1,-1.12,-1.15,-1.15,-1.12,-1.15,-1.12,-1.15,-1.1,
-1.32,-1.25,-1.2,-1.22,-1.2,-1.22,-1.15,-1.25,-1.25,-1.3,
-1.3,-1.29,-1.5,-1.5,-1.3,-1.38,-1.3,-1.32,-1.25,-1.3,
-1.47,-1.53,-1.35,-1.44,-1.6,-1.72,-1.66,-1.66,-1.75,-1.5,
-1.83,-1.92,1.1,1.16,1.09,.73,.45,.53,-.23,.68,
.49,.64,.5,.48,.48,.58,.02,-.06,-.02,.34,
.02,-.04,-.1,-.12,.2,.3,.4,.32,.3,.26,
.0,.08,-.46,-.22,-.44,-.45,-.3,-.34,-.52,-.72,
-.3,-.1,-.25,.05,-.4,-.2,.3,.35,.2,.1,
-.55,-.6,-.8,-1.0,-1.1,-1.2,-1.0,-.95,-1.3,-1.75
];
const p4D = [
2.2,1.9,2.0,2.15,1.65,1.85,1.6,1.95,1.8,2.1,
1.95,1.95,1.7,2.1,1.7,1.95,2.05,2.05,1.8,2.0,
1.95,1.6,1.6,1.7,1.7,1.75,1.8,1.75,1.7,1.65,
1.7,1.7,1.75,1.9,1.6,1.7,1.8,1.7,1.6,1.7,
1.75,1.7,1.7,1.6,1.7,1.6,1.8,1.85,1.9,2.0,
1.7,1.6,1.75,1.55,1.5,1.6,1.55,1.75,1.85,1.9,
1.8,1.85,1.95,2.0,2.0,1.95,1.8,1.7,1.75,1.8,
1.7,1.6,1.6,1.5,1.4,1.45,1.6,1.8,1.7,1.6,
1.85,1.9,1.95,2.0,2.05,1.9,1.75,1.75,1.7,1.65,
1.55,1.4,1.3,1.35,1.5,1.6,1.7,1.75,1.8,1.75,
1.8,1.9,2.1,1.9,1.75,1.65,1.6,1.5,1.4,1.3,
1.35,1.3,1.2,1.4,1.55,1.7,1.6,1.7,1.85,2.0,
.3,1.45,1.7,1.6,1.4,1.3,1.25,1.3,1.35,1.3,
1.2,1.5,1.6,2.15,2.1,2.05,1.8,.4,1.5,1.3,
1.25,1.2,1.1,1.2,1.15,1.1,1.2,1.4,1.5,1.9,
1.95,2.05,.3,1.7,1.55,1.3,1.2,1.25,1.15,1.25,
1.1,1.2,1.3,1.35,1.55,1.5,.3,1.7,1.5,1.25,
1.3,1.2,1.15,1.2,1.1,1.1,1.0,.7,1.3,1.4,
1.7,.25,1.2,1.15,1.2,1.1,1.15,1.1,.85,.9,
.8,.7,.35,.2,1.6,1.6,1.65,1.35,1.35,1.2,
1.1,1.15,1.05,.8,.75,.6,.55,.7,.2,.3,
1.4,1.3,2.2,1.2,1.1,1.15,1.1,.7,.6,.55,
.45,.2,1.6,.3,1.2,1.15,1.15,1,.75,.6,
.55,.6,.5,.25,1.5,1.2,1.15,1.1,.9,.75,
.6,.55,1.5,1.45,.2,.25,1.1,1.2,1.05,.65,
.6,.55,.5,.25,.2,1.1,1.1,1.0,.7,.55,
.5,.5,1.3,.45,.25,1.35,1.4,1.15,1.1,1.15,
.7,.55,.5,.45,.3,.3,1.7,.2,1.3,1.3,
1.2,.9,.6,.5,.45,1.95,.45,.4,.25,.2,
1.5,1.3,2.1,.5,.45,.45,.4,.4,.35,.3,
.2,1.25,1.4,.45,.5,.4,.35,.35,.3,.2,
1.85,1.3,1.3,2.15,.45,.5,.35,.35,.3,.2,
1.1,.95,1.1,.5,.45,.45,.4,.5,.3,.3,
2.05,1.15,1.05,.95,.5,.45,.45,.5,.4,.3,
1.0,1.2,.9,.85,.55,.45,.6,.45,.35,.3,
.35,.25,1.9,1.1,.85,.75,.65,.5,.35,.3,
.75,.7,.6,.4,.3,1.1,.8,.7,.3,.5,
.85,.8,2.0,2.15,2.15,1.75,1.4,2.0,1.95,1.65,
1.9,1.6,1.75,1.3,1.4,1.95,1.6,1.9,2.1,1.35,
1.7,1.55,2.0,1.4,2.1,1.55,1.75,1.7,2.0,1.9,
1.7,1.6,1.45,1.55,1.4,1.5,1.45,1.5,1.5,.8,
1.3,1.2,1.15,1.3,.9,.8,1.6,1.4,1.4,1.35,
1.1,.9,.7,.45,.4,.5,.55,.35,.25,.2
];

/* ---------- data: panel 8088-3704 ---------- */
const p5Title = '8088-3704';
const p5XTicks = [2,3,4,5,6,7,8];
const p5YTicks = [0,0.5,1.0,1.5,2.0,2.5];
const p5CbTicks = [0,0.2,0.4,0.6,0.8,1.0,1.2,1.4,1.6];
const p5XRange = [2,8];
const p5YRange = [0,2.5];
const p5CbMax = 1.77;
const p5LineEnd = [8,1.24];
const p5X = [
3.52,3.68,3.75,3.6,3.72,3.92,3.75,3.72,4.1,4.1,
3.3,3.45,3.62,3.73,3.92,4.08,3.8,4.38,3.4,3.77,
3.5,3.8,3.95,4.03,4.2,4.5,4.62,4.58,3.27,3.72,
3.8,3.88,3.92,3.68,3.78,3.85,4.05,3.92,4.22,3.52,
3.5,4.08,4.12,4.08,3.72,3.75,4.5,4.6,4.72,4.82,
3.35,3.5,3.6,3.75,3.95,4.15,4.22,4.5,4.62,4.95,
3.28,3.42,3.5,3.7,3.85,4.1,4.2,4.32,4.5,4.7,
5.2,5.72,6.0,6.05,6.33,3.05,3.15,3.28,3.5,3.62,
3.82,4.02,4.25,4.4,4.58,4.75,4.95,5.05,5.22,5.4,
5.5,5.8,5.9,6.2,6.5,2.75,2.95,3.1,3.25,3.45,
3.62,3.8,3.95,4.15,4.32,4.5,4.7,4.88,5.02,5.22,
2.78,2.88,3.05,3.25,3.42,3.6,3.78,3.98,4.15,4.32,
4.48,4.65,4.82,5.02,5.25,5.55,5.88,6.02,2.38,2.28,
2.52,2.68,2.75,2.92,3.05,3.2,3.4,3.55,3.72,3.9,
4.08,4.25,4.42,4.6,4.78,4.95,5.12,5.3,5.42,5.88,
6.2,6.65,6.85,7.05,2.75,2.88,3.02,3.18,3.35,3.52,
3.7,3.88,4.05,4.22,4.4,4.58,4.75,4.95,5.15,5.42,
5.68,5.9,6.0,6.3,2.72,2.92,3.05,3.22,3.4,3.58,
3.78,3.95,4.12,4.3,4.5,4.72,4.95,5.1,5.35,5.6,
5.88,2.2,2.5,2.75,2.95,3.12,3.3,3.48,3.68,3.85,
4.02,4.22,4.42,4.65,4.85,5.25,5.58,5.8,6.1,6.42,
2,2.22,2.42,2.48,2.65,2.72,2.88,3,3.18,3.35,
3.5,3.7,3.92,4.1,4.28,4.52,4.65,5.2,5.35,5.55,
5.62,5.72,5.85,6.05,6.4,6.55,6.75,6.95,7.1,7.5,
2.82,2.95,3.02,3.2,3.38,3.58,3.72,3.92,4.1,4.3,
4.5,4.68,5.05,5.3,5.5,5.75,6.02,6.22,6.42,6.62,
6.8,7.25,7.45,7.58,7.82,2.85,3.05,3.22,3.42,3.62,
3.82,4.02,4.2,4.4,4.62,4.85,5.08,5.38,5.62,6.1,
6.28,6.55,6.68,2.75,2.95,3.15,3.32,3.52,3.72,3.92,
4.12,4.35,4.55,4.8,5.02,5.25,5.5,5.75,6.05,6.18,
6.4,7.25,7.4,7.5,2.25,2.32,2.65,2.88,3.02,3.32,
3.5,3.72,3.95,4.15,4.38,4.62,4.78,5.02,5.3,5.62,
6.05,6.2,6.35,7.2,2.58,2.72,2.82,3.05,3.32,3.55,
3.75,3.95,4.12,4.32,4.55,4.72,4.92,5.1,5.28,5.5,
5.85,6.5,3.38,3.62,3.82,4.02,4.25,4.78,4.95,5.32,
3.6,3.9,4.1,4.3,3.4,3.7,4.0,4.2,3.55,4.45,
3.3,3.5,3.7,4,4.2,3.2,3.45,3.9,4.4,3.05
];
const p5Y = [
2.03,2.04,2.02,1.98,1.98,1.98,1.95,1.9,1.91,1.87,
1.85,1.88,1.85,1.87,1.85,1.86,1.8,1.8,1.71,1.74,
1.68,1.72,1.7,1.68,1.72,1.69,1.67,1.72,1.61,1.62,
1.65,1.65,1.63,1.55,1.56,1.58,1.56,1.53,1.58,1.51,
1.49,1.52,1.5,1.47,1.5,1.45,1.54,1.5,1.47,1.5,
1.44,1.42,1.44,1.42,1.4,1.42,1.4,1.44,1.45,1.48,
1.35,1.38,1.35,1.37,1.4,1.36,1.38,1.35,1.38,1.42,
1.45,1.43,1.43,1.4,1.38,1.35,1.34,1.3,1.3,1.3,
1.33,1.32,1.3,1.32,1.34,1.35,1.38,1.4,1.42,1.4,
1.3,1.3,1.25,1.3,1.3,1.24,1.25,1.25,1.27,1.25,
1.27,1.25,1.25,1.28,1.25,1.28,1.25,1.28,1.3,1.3,
1.18,1.2,1.2,1.2,1.18,1.2,1.2,1.2,1.2,1.2,
1.2,1.22,1.22,1.22,1.22,1.22,1.18,1.18,1.15,1.12,
1.15,1.12,1.12,1.12,1.12,1.14,1.14,1.14,1.14,1.14,
1.12,1.14,1.14,1.12,1.12,1.14,1.14,1.1,1.14,1.15,
1.16,1.19,1.2,1.16,1.08,1.05,1.05,1.06,1.07,1.07,
1.08,1.08,1.06,1.08,1.06,1.08,1.05,1.08,1.1,1.12,
1.07,1.08,1.1,1.1,1.0,1.0,1.0,1.02,1.03,1.0,
1.02,1.02,1.0,1.02,1.02,1.0,1.0,1.05,1.02,1.05,
1.02,.98,.92,.98,.98,.95,.95,.96,.98,.98,
.96,.96,.98,.96,.98,.99,.98,1.0,1.02,1.06,
.9,.9,.9,.92,.92,.88,.9,.9,.9,.92,
.9,.92,.92,.92,.92,.9,.9,.95,.98,.9,
.95,.95,.98,.95,1.05,1.03,1.04,1.03,1.02,.98,
.86,.85,.85,.88,.85,.86,.87,.85,.88,.85,
.87,.9,.85,.9,.9,.9,.88,.92,.95,.95,
1.0,.93,.92,.95,.93,.82,.78,.8,.78,.8,
.8,.8,.78,.8,.8,.78,.8,.8,.85,.82,
.82,.88,.85,.75,.75,.75,.74,.75,.75,.75,
.74,.75,.75,.77,.75,.8,.78,.8,.76,.8,
.8,.7,.72,.72,.67,.68,.67,.68,.68,.68,
.7,.7,.7,.7,.7,.7,.72,.72,.75,.72,
.72,.75,.78,.68,.64,.68,.67,.64,.62,.64,
.64,.62,.65,.62,.62,.63,.64,.66,.62,.65,
.67,.65,.58,.58,.58,.6,.6,.58,.58,.6,
1.15,1.2,1.1,1.25,1.0,.95,.92,1.0,1.25,1.2,
.72,.65,.6,.68,.75,.82,.8,.78,.7,.65
];
const p5D = [
.85,.9,.9,.95,.9,.9,1.0,.75,.9,.9,
.85,.95,.8,.8,.7,.9,.6,.65,.9,.5,
1.0,.6,.6,.65,1.05,1.0,1.15,1.1,1.05,.65,
.55,.6,.55,.45,.5,.45,.95,.7,.75,.95,
1.05,.7,.65,.6,.35,.4,1.6,1.35,1.4,1.5,
1.0,.95,.95,.6,.9,1.1,.9,1.05,1.3,1.1,
1.65,1.55,1.05,.95,.6,.9,.95,1.05,1.1,1.2,
1.3,1.5,1.3,1.4,1.45,.95,.8,1.1,.9,.95,
1.2,1.0,1.1,.8,.9,1.1,1.3,1.3,1.45,1.65,
1.4,1.3,1.25,1.3,1.7,.9,.9,1.05,.95,.85,
1.05,.8,.95,1.05,.85,.85,1.1,1.2,1.4,1.45,
.8,.85,.7,.7,.8,.85,.95,1.1,.9,.8,
1.0,.95,1.3,1.4,1.3,1.55,1.2,1.1,1.3,1.3,
1.4,.85,.8,.8,.65,1.0,.55,.9,1.1,.9,
.9,1.15,.85,1.2,1.3,1.3,1.65,1.3,1.15,1.25,
1.3,1.5,1.6,1.15,1.0,.7,.75,.8,.65,.45,
.5,1.1,.95,1.0,1.2,1.15,1.3,1.2,1.7,1.5,
1.1,1.3,1.2,1.4,1.3,.9,.65,.7,.6,.6,
1.05,1.3,.9,1.15,1.6,1.4,1.5,1.3,1.65,1.2,
1.15,1.4,.85,.7,.85,.5,.6,1.2,1.35,1.2,
1.0,.95,.55,1.05,1.3,1.05,1.1,1.0,1.05,1.2,
1.55,1.5,1.45,.95,.9,.8,1.4,1.3,.9,.5,
.35,1.3,1.2,1.25,.95,1.05,1.1,1.0,1.3,1.4,
1.5,1.3,1.3,1.25,1.15,1.3,1.35,1.4,1.3,1.15,
.7,.45,.35,.4,.35,.5,1.25,1.3,1.15,1.1,
1.0,1.1,1.2,1.15,1.3,1.4,1.3,1.25,1.3,1.2,
1.3,1.3,1.35,1.2,1.25,.5,.4,.35,.3,.55,
.6,.65,.75,.85,.3,1.3,1.2,1.3,1.0,1.2,
.7,1.25,1.35,.45,.5,.35,.2,.3,.35,.55,
.5,.6,.3,1.2,1.3,.9,1.2,1.1,1.25,1.1,
1.3,1.45,1.3,1.3,.65,.65,.7,.45,.35,.2,
.15,.2,.15,.6,1.1,1.05,1.1,1.1,1.1,1.3,
1.15,1.15,1.2,1.35,.8,.65,.55,.4,.15,.25,
.2,.5,.2,.7,.85,.95,1.1,1.15,1.0,1.1,
1.25,1.2,.7,.15,.2,.7,.85,1.1,1.1,1.15,
1.3,1.1,1.2,1.2,.9,1.3,1.4,1.35,1.1,.85,
.2,.2,.2,.25,.6,.3,.3,.75,.7,.2
];

/* ---------- data: panel 12067-3701 ---------- */
const p6Title = '12067-3701';
const p6XTicks = [-10,-5,0,5,10,15];
const p6YTicks = [-2.0,-1.5,-1.0,-0.5,0,0.5,1.0];
const p6CbTicks = [0,0.2,0.4,0.6,0.8,1.0,1.2,1.4,1.6];
const p6XRange = [-10,15];
const p6YRange = [-2,1.2];
const p6CbMax = 1.75;
const p6LineEnd = [15,1.24];
const p6X = [
-1.9,-3.6,.3,-4.4,-.2,.6,6.2,6.3,5.6,5.8,
8,8.2,7.1,7.2,3.1,2.1,2.4,3.3,6.5,5.2,
4.1,4.6,4.9,5.4,-2,1.3,1.7,6,6.4,5.6,
3.6,4.2,4.5,3.8,14,2,3.2,5,5.3,5.7,
1.3,1.4,1.4,2,3.2,3.4,7,7.3,8.2,9.8,
10.6,11,10.9,11.1,2.6,3,3.6,4.1,5,4.6,
-.2,.7,2.7,-5.2,1.4,2.2,2.9,5,5.6,7.5,
9.2,-.6,1.7,2.1,2.5,3.2,3.4,3.7,5.1,5.9,
-2,-1.9,-.4,.8,1.3,1.7,2.2,2.5,3.3,3.8,
7.9,8.9,10.4,-2.1,.4,1.2,1.5,1.9,2.8,3.1,
-5.4,-1,-.4,1,1.5,1.9,2.4,3.2,3.6,5.2,
-2.5,-1.2,-.1,.7,1.3,1.7,2.2,2.8,3.3,4.1,
5,5.8,-4.2,-2,-.4,.4,.9,1.3,1.8,2.4,
3,3.7,4.1,4.7,6,6.8,7.2,7.8,-3.9,-1.1,
-.3,.4,1.1,1.4,1.9,2.5,3.2,3.6,7.4,10.7,
0,.5,1,1.4,1.9,2.4,2.9,4.3,4.6,5.1,
-.7,-.4,.8,1.2,1.8,2.3,3.1,3.7,4.3,7.9,
9.7,14.1,-.1,.6,1,1.4,1.9,2.2,2.9,4.5,
5.7,6.4,6.6,-4.8,-3.6,-2.5,-.8,-.5,.4,.8,
1.1,1.5,1.9,2.3,2.9,3.4,5.6,.4,.8,1.1,
1.5,1.9,2.4,3.2,.3,.9,1.2,1.6,2,2.8,
3.3,.4,.7,1.1,1.6,1.9,2.4,2.9,3.4,3.1,
-.2,.4,.8,1.3,1.8,2.2,2.7,3.1,3.4,3,
4.7,-.4,.5,.9,1.3,1.7,2.1,2.5,3,3.2,
.5,.9,1.2,1.7,2.2,2.6,3.1,3.8,-.1,.5,
1.3,2.6,3.1,1.4,1.5,2.3,2.6,2.9,3.2,5.4,
1.3,1.4,2.1,2.4,3,1.3,1.3,2.5,1.3,2.3,
2.8,-.8,2.7,-.2,.5,3.4,-4.7,3.5,4.1,3.5,
3.8,4.2,4.5,4.2,3.3,3.5,2.9,3.1,3.4,3.6,
1.6,2.2,2.9,3.2,3.4,3,3.3,.9,1.4,1.7
];
const p6Y = [
.96,.87,.87,.79,.82,.82,.8,.79,.77,.73,
.73,.68,.7,.67,.67,.67,.63,.63,.6,.58,
.68,.7,.7,.7,.6,.56,.57,.58,.58,.6,
.58,.57,.62,.54,.6,.5,.5,.5,.53,.5,
.5,.46,.44,.5,.5,.44,.5,.44,.49,.46,
.5,.53,.46,.41,.42,.38,.4,.44,.4,.45,
.34,.34,.34,.26,.32,.34,.3,.33,.38,.34,
.34,.28,.22,.24,.2,.3,.26,.3,.3,.32,
.18,.14,.14,.2,.18,.2,.2,.12,.16,.2,
.18,.19,.25,.1,.1,.1,.12,.08,.06,.12,
.03,.08,.12,.05,.02,.05,.02,.08,.04,.02,
-.08,.02,-.04,.03,.02,-.02,-.02,.03,-.02,.01,
-.04,-.02,-.09,-.08,-.04,-.04,-.04,-.08,-.08,-.08,
-.08,-.1,-.08,-.08,-.08,-.14,-.1,-.14,-.17,-.19,
-.14,-.16,-.14,-.15,-.16,-.16,-.17,-.18,-.17,-.17,
-.22,-.2,-.22,-.24,-.22,-.27,-.25,-.23,-.24,-.24,
-.35,-.36,-.32,-.32,-.34,-.3,-.3,-.29,-.32,-.29,
-.27,-.28,-.37,-.33,-.36,-.38,-.35,-.36,-.37,-.33,
-.36,-.33,-.32,-.48,-.47,-.51,-.49,-.57,-.46,-.42,
-.42,-.4,-.44,-.42,-.42,-.45,-.52,-.55,-.5,-.52,
-.48,-.54,-.5,-.48,-.6,-.56,-.6,-.58,-.56,-.6,
-.6,-.7,-.72,-.65,-.66,-.62,-.68,-.64,-.72,-.68,
-.8,-.78,-.72,-.74,-.76,-.72,-.74,-.78,-.72,-.68,
-.78,-.82,-.88,-.82,-.85,-.8,-.82,-.84,-.78,-.8,
-.95,-.95,-.9,-.88,-.92,-.88,-.92,-.92,-.97,-.93,
-.97,-.98,-.98,-1.05,-1.12,-1.08,-1.15,-1.1,-1.08,-1.08,
-1.22,-1.27,-1.23,-1.16,-1.25,-1.3,-1.35,-1.3,-1.2,-1.15,
-1.45,-1.52,-1.45,-1.7,-2,-1.84,-.47,-.25,-.2,.33,
.12,.16,.02,.05,.34,.42,.38,.46,.48,.28,
-.75,-.75,-.8,-.75,-.7,-.72,-.85,-.4,-.15,-.05
];
const p6D = [
1.6,1.7,1.5,1.7,1.55,1.45,1.0,1.65,1.2,1.25,
1.3,1.3,1.3,1.3,.2,1.45,1.7,1.1,1.45,1.2,
.95,1.1,1.0,1.0,1.6,.85,.85,1.3,1.55,1.25,
1.15,1.2,1.15,1.1,1.55,1.5,.95,1.2,1.25,1.3,
.85,.75,.8,.7,.3,.3,1.3,1.3,1.3,1.3,
1.3,1.35,1.3,1.4,.5,.45,1.0,1.15,1.2,1.3,
1.5,1.05,1.65,1.4,.65,.8,.45,1.0,1.15,1.3,
1.3,1.0,.7,.65,.75,.25,.3,1.1,1.0,1.4,
1.3,1.25,.95,.85,.7,.55,.6,1.3,.95,1.15,
1.3,1.3,1.5,1.35,.9,.7,.6,.5,1.4,.8,
1.3,.95,.8,.85,.6,.5,.7,.9,1.0,1.25,
1.3,.95,.7,1.05,.85,.6,.55,.5,1.1,1.15,
1.2,1.2,1.2,1.0,.85,1.45,.8,.65,.6,1.25,
.85,1.1,1.2,1.3,1.3,1.25,1.3,1.3,1.2,1.2,
.85,.9,.7,.8,.7,.55,.9,1.0,1.35,1.15,
.9,.85,.8,.65,.6,.5,.45,1.6,1.4,1.35,
.9,.85,1.3,.85,.7,.5,.5,.9,.8,1.35,
1.3,1.4,1.1,1.0,.85,.8,.85,.7,.35,1.2,
1.65,1.45,1.4,1.4,1.65,1.2,1.35,1.4,1.0,.75,
.8,.75,.85,1.2,.5,.35,.9,.85,.8,.75,
.6,.55,.7,.25,.85,.75,.7,.6,.6,.3,
.8,.85,.75,.7,.75,.6,.45,.3,.2,.2,
.95,1.2,.9,.75,.65,.5,.4,.2,.2,.3,
.8,.95,.75,.7,.7,.6,.65,.45,.2,.2,
1.0,.9,.8,.7,.55,.5,.4,.85,1.05,.95,
.75,1.3,1.1,.6,.65,.4,.3,.35,.5,1.35,
.65,.65,.7,.35,1.0,.75,.7,.4,.7,.4,
.4,.9,1.55,.95,1.1,.3,1.3,.45,1.15,1.1,
1.1,1.15,1.1,1.4,1.05,1.1,1.5,1.1,.3,1.1,
.8,.65,.25,.2,.2,.2,.25,.9,.6,.55
];

/* ---------- data: panel 8981-12705 ---------- */
const p7Title = '8981-12705';
const p7XTicks = [-15,-10,-5,0,5,10,15];
const p7YTicks = [-1.0,-0.5,0,0.5,1.0,1.5,2.0,2.5];
const p7CbTicks = [0,0.5,1.0,1.5,2.0,2.5,3.0];
const p7XRange = [-15,15];
const p7YRange = [-1.3,2.7];
const p7CbMax = 3.35;
const p7LineEnd = [15,1.24];
const p7X = [
3.3,3.6,3.9,4.2,4.5,3.4,3.7,4,4.3,4.6,
2.1,2.5,2.8,3.2,3.5,3.8,4.1,4.4,4.6,2.2,
2.6,3.1,3.5,3.8,4.1,4.4,1.1,1.7,2.2,2.6,
3,3.4,3.7,4,4.4,1.7,2.2,2.6,3,3.3,
3.6,4,4.3,1.8,2.1,2.4,2.8,3.1,3.4,3.7,
4,4.3,-2,.1,1.2,1.6,2,2.4,2.8,3.2,
3.6,3.9,4.3,4.9,5.6,.2,.7,1.2,1.6,2,
2.4,2.8,3.2,3.6,4,4.5,5.3,-.5,.1,.6,
1,1.4,1.8,2.2,2.6,3,3.4,3.8,4.2,4.6,
5,5.6,12,-14,-12.2,-9.5,-7.4,-4.6,-3.9,-1,
.1,.4,.8,1.2,1.6,2,2.4,2.8,3.2,3.6,
4,4.4,4.8,5.2,5.7,6.3,7.2,7.9,8.2,10.6,
13.6,-13.8,-7.4,-3,-2.3,-1.5,-1,-.5,0,.4,
.8,1.2,1.6,2,2.4,2.8,3.2,3.6,4,4.4,
4.8,5.2,5.6,6,6.5,7,8,8.4,9.5,10,
-12.8,-11.9,-10.2,-9.3,-6.9,-6,-5,-4.2,-3.6,-3,
-2.4,-1.8,-1.2,-.6,0,.5,1,1.5,2,2.5,
3,3.5,4,4.5,5,5.5,6,6.5,7,7.5,
8.2,8.5,9,10.4,11,12.2,-13,-12,-10.4,-9.6,
-8.6,-7.2,-6.2,-5.4,-4.6,-3.8,-3.2,-2.6,-2,-1.4,
-.8,-.2,.4,1,1.6,2.2,2.8,3.4,4,4.6,
5.2,5.8,6.4,7,7.6,8.2,9,10,11.5,12.4,
-14.8,-13.5,-12.4,-11.2,-10.2,-9.5,-8.6,-7.6,-6.6,-5.8,
-5,-4.2,-3.4,-2.6,-1.8,-1,-.4,.2,.8,1.4,
2,2.6,3.2,3.8,4.4,5,5.6,6.2,6.8,7.4,
8,8.6,9.2,10.2,11.2,11.8,12.8,14.7,-14.9,-13.9,
-12.6,-11.6,-10.6,-9.7,-8.8,-8,-7.2,-6.4,-5.6,-4.8,
-4,-3.2,-2.4,-1.6,-.8,-.1,.6,1.2,1.8,2.4,
3,5,5.4,5.7,5.5,6,6.4,7,7.8,8.6,
9.4,10.6,11.3,11.8,13.6,14.4,14.9,-14,-13.3,-12,
-11.2,-10.4,-9.6,-8.7,-7.9,-7.1,-6.3,-5.5,-4.7,-3.9,
-3.1,-2.3,-1.5,-.7,0,.7,1.4,2.1,2.7,3.4,
4,4.6,5.2,5.8,6.4,7,7.6,8.2,8.8,9.7,
11.2,11.9,14.9,-14.9,-12.8,-11.9,-11,-10,-9.3,-8.4,
-7.6,-6.8,-6,-5.2,-4.4,-3.6,-2.8,-2,-1.2,-.4,
.3,1,1.7,2.3,3.2,4,4.7,5.5,6.2,6.9,
7.6,8.3,9.1,10.4,11.3,12.9,13.3,-11.6,-10.2,-9.2,
-8.2,-7.2,-6.2,-5.4,-4.6,-3.8,-3,-2.2,-1.4,-.6,
.2,1,1.8,2.5,3.4,4.2,5,5.8,6.6,7.4,
8.2,-12.6,-11,-9.6,-8.6,-7.4,-6.2,-5,-4,-3,
-2.2,-1.4,-.6,.2,1,1.8,2.6,3.3,4.2,5,
6,7,8.2,9,9.8,11.6,12.2,-14.8,-13.5,-12.4,
-11.1,-9,-7.5,-6,-4.8,-3.6,-2.6,-1.8,-1,-.2,
.6,1.4,2.2,3,4,5,5.8,6.8,8,9.6,
13,-3,-1.5,-.5,.5,1.2,2,2.6,3.1,4.2,
4.5,5.5,6.4,7.3,8,9,9.5,12.4,12.9,-7.5,
-2.9,-1,.2,.8,1.5,2.4,4,4.1,5,6.4,
8.2,-.5,.3,.6,1.2,1.3,3.2,7.2,8,9.5,
-2.4,-2.5,1.3,5.5,4,6.1,7.2,-10.2,-1.9,13,
-1.9,-10.2,3.9,6.05,7.1,1.4,-2.4,-2.4,1.35,3.25,
5.6,6.4,7.6,8.3,9.3,9.4,5.1,4,4.1,2.2,
-.8,.2,-.4,-.1,.7,.2,-3,-7.5,12.4,12.9,
2.8,3.2,3.6,4,2.3,2.7,3.1,3.5,3.9,4.2,
1.5,2,2.5,3,3.4,3.8,4.2,4.6,.6,1.1,
-8.7,-6.5,-4.3,-2.1,.1,2.3,4.5,6.7,8.9,11.1,
-7.8,-5.6,-3.4,-1.2,1,3.2,5.4,7.6,9.8,12,
-9.2,-7,-4.9,-2.7,-.5,1.7,3.9,6.1,8.3,10.5,
-8,-5.9,-3.7,-1.5,.7,2.9,5.1,7.3,9,11,
-6.7,-4.5,-2.3,-.1,2.1,4.3,6.5,8.7,-9.5,-7.5,
-5.3,-3.1,-.9,1.3,3.5,5.7,7.1,-4,-1.7,.4,
-2.4,-1.9,-1.2,-.3,.9,1.7,2.6,3.8,4.8,5.9,
-3.7,-2.7,-1.7,-.7,.3,1.3,2.3,3.3,4.3,5.3,
-3.2,-2.2,-1.2,-.2,.8,1.8,2.8,3.8,4.8,5.8,
-6.4,-5.2,-4,-2.8,-1.6,-.4,.8,2,3.2,4.4
];
const p7Y = [
2.12,2.13,2.12,2.13,2.1,2.05,2.06,2.07,2.05,2.04,
2.0,2.02,2.0,1.98,1.98,1.98,1.98,1.98,1.97,1.95,
1.93,1.92,1.9,1.9,1.9,1.9,1.88,1.85,1.85,1.85,
1.82,1.82,1.82,1.82,1.82,1.75,1.72,1.72,1.75,1.75,
1.72,1.72,1.72,1.65,1.62,1.65,1.62,1.65,1.65,1.62,
1.65,1.62,1.7,1.6,1.6,1.58,1.55,1.55,1.55,1.55,
1.55,1.55,1.55,1.58,1.55,1.55,1.48,1.48,1.48,1.45,
1.48,1.45,1.48,1.45,1.48,1.48,1.45,1.45,1.4,1.35,
1.38,1.38,1.38,1.35,1.38,1.38,1.35,1.38,1.35,1.38,
1.4,1.4,1.58,1.45,1.47,1.3,1.32,1.38,1.33,1.3,
1.3,1.32,1.3,1.3,1.28,1.3,1.28,1.3,1.28,1.3,
1.28,1.3,1.3,1.3,1.35,1.42,1.42,1.4,1.38,1.44,
1.48,1.38,1.35,1.3,1.25,1.22,1.25,1.25,1.25,1.22,
1.22,1.24,1.22,1.24,1.22,1.24,1.22,1.24,1.22,1.24,
1.22,1.24,1.25,1.25,1.22,1.22,1.3,1.32,1.3,1.32,
1.25,1.28,1.22,1.28,1.25,1.22,1.22,1.25,1.2,1.22,
1.18,1.2,1.18,1.2,1.18,1.18,1.18,1.18,1.18,1.18,
1.18,1.18,1.18,1.18,1.18,1.2,1.18,1.18,1.22,1.18,
1.25,1.22,1.2,1.3,1.28,1.25,1.2,1.15,1.12,1.18,
1.12,1.12,1.12,1.14,1.1,1.14,1.12,1.14,1.12,1.14,
1.12,1.14,1.12,1.12,1.12,1.12,1.12,1.12,1.12,1.1,
1.1,1.1,1.12,1.12,1.1,1.1,1.15,1.12,1.1,1.18,
1.05,1.08,1.07,1.05,1.06,1.05,1.06,1.05,1.05,1.06,
1.05,1.06,1.05,1.06,1.05,1.06,1.05,1.06,1.05,1.05,
1.05,1.05,1.05,1.05,1.05,1.05,1.05,1.05,1.05,1.05,
1.05,1.08,1.06,1.05,1.1,1.12,1.05,1.08,1.02,1.0,
1.0,1.0,1.0,1.0,1.0,.98,1.0,.98,1.0,.98,
1.0,.98,1.0,.98,1.0,.98,1.0,.98,1.0,.98,
.98,.95,.93,.92,.88,.92,1.0,1.0,1.0,1.0,
1.0,1.0,1.02,1.02,1.02,1.0,1.0,.9,.92,.92,
.92,.9,.92,.92,.92,.9,.92,.9,.92,.9,
.92,.9,.92,.9,.92,.92,.9,.92,.92,.92,
.88,.88,.9,.92,.9,.92,.92,.92,.95,.92,
.9,.9,.95,.82,.8,.85,.85,.82,.85,.82,
.85,.82,.84,.82,.85,.82,.84,.82,.85,.82,
.84,.82,.85,.84,.8,.82,.84,.84,.84,.84,
.84,.84,.85,.85,.85,.85,.85,.72,.72,.75,
.76,.75,.72,.75,.72,.75,.72,.75,.72,.75,
.72,.75,.72,.74,.74,.74,.74,.74,.74,.74,
.74,.68,.65,.68,.65,.68,.65,.66,.64,.65,
.65,.65,.65,.65,.65,.65,.66,.66,.66,.66,
.66,.66,.66,.68,.66,.75,.66,.55,.58,.62,
.52,.5,.55,.55,.52,.55,.55,.55,.55,.55,
.55,.52,.55,.55,.52,.55,.55,.55,.56,.58,
.55,.3,.38,.42,.42,.42,.42,.38,.35,.42,
.42,.42,.42,.42,.42,.4,.28,.42,.42,.26,
.29,.12,.25,.22,.2,.12,.25,.2,.22,.2,
.25,.12,.14,.12,.08,.03,.1,.1,.15,.1,
-.02,-.1,-.15,-.05,-.28,-.5,-.4,-.6,-.77,.55,
-.77,-.6,-.28,-.51,-.42,-.17,-.12,-.02,.03,.1,
-.05,.12,.14,.24,.27,.12,.2,.27,.2,.12,
.12,.15,.22,.3,.25,.35,.3,.28,.42,.42,
1.7,1.68,1.7,1.68,1.78,1.8,1.85,1.87,1.78,1.6,
1.5,1.42,1.52,1.42,1.52,1.42,1.42,1.3,1.42,1.35,
1.0,.96,1.02,.96,1.0,.96,1.02,.94,.98,.95,
.88,.86,.88,.87,.88,.87,.88,.86,.85,.88,
.78,.8,.78,.8,.79,.78,.78,.78,.78,.8,
.7,.68,.7,.7,.68,.7,.7,.68,.72,.75,
.6,.6,.58,.6,.6,.6,.6,.6,.62,.6,
.5,.48,.5,.48,.5,.48,.55,.42,.4,.46,
.38,.36,.35,.36,.36,.38,.38,.38,.4,.4,
1.1,1.12,1.1,1.12,1.1,1.12,1.1,1.12,1.1,1.12,
1.02,1.0,1.02,1.0,1.02,1,1.02,1,1.02,1,
1.15,1.17,1.15,1.17,1.15,1.17,1.15,1.17,1.15,1.17
];
const p7D = [
.85,.85,.9,.85,.9,.85,.9,.85,.85,.85,
2.6,2.4,.85,.85,.85,.9,.85,.85,.85,2.3,
2.0,.9,.85,.85,.8,.8,1.9,1.4,1.2,.9,
.85,.9,.8,.75,.7,1.3,1.1,.9,.85,.85,
.85,.7,.65,1.2,1.1,.9,.85,.85,.9,.8,
.7,.6,3.3,1.3,1.1,1.0,.9,1.0,1.1,.9,
.8,.7,.5,2.0,2.4,1.4,1.2,1.1,1.0,1.0,
1.0,1.1,1.0,.9,.7,.5,1.2,1.5,1.2,1.3,
1.3,1.4,1.2,1.2,1.3,1.3,1.1,1.1,.9,.6,
.5,2.1,3.0,2.8,3.2,2.6,2.0,2.2,2.5,3.3,
1.2,1.3,1.4,1.5,1.4,1.5,1.4,1.5,1.5,1.3,
1.3,1.1,.9,.7,1.6,2.3,2.4,2.6,2.8,2.9,
2.3,2.6,2.3,1.5,1.2,1.3,1.3,1.5,1.5,1.4,
1.5,1.6,1.5,1.6,1.5,1.6,1.6,1.5,1.4,1.4,
1.2,1.2,1.2,1.3,1.8,2.1,2.6,2.8,2.5,2.9,
2.9,2.5,2.2,2.4,2.5,1.9,2.2,2.5,1.5,1.4,
1.4,1.5,1.5,1.5,1.5,1.7,1.5,1.6,1.7,1.8,
1.6,1.6,1.5,1.4,1.3,1.3,1.5,1.9,2.4,2.6,
2.8,3.0,2.4,2.6,3.0,2.8,2.6,2.5,2.0,2.3,
2.3,2.4,1.9,2.1,2.3,2.0,1.9,1.6,1.5,1.6,
1.5,1.8,1.7,1.8,1.8,1.8,1.7,1.7,1.5,1.4,
1.2,1.4,2.2,2.3,2.8,2.6,2.0,2.5,2.8,2.6,
2.8,2.6,2.5,2.2,2.5,2.0,2.4,2.5,2.3,2.0,
2.4,1.8,1.6,1.7,1.7,1.9,2.1,1.9,2.0,1.9,
2.1,2.2,2.0,1.3,1.2,.4,.3,1.4,2.4,2.6,
2.8,2.9,2.6,2.0,1.8,2.8,2.3,1.7,2.9,2.8,
2.5,2.4,2.0,2.5,2.2,2.5,2.3,2.0,2.4,2.6,
2.2,2.6,2.4,2.0,2.5,1.8,2.0,2.4,2.3,2.2,
2.5,.3,.2,.2,.15,.4,1.5,2.4,2.7,2.9,
2.4,1.7,1.9,2.4,1.5,1.3,1.4,2.6,2.7,2.8,
2.7,2.3,2.5,2.6,2.7,2.4,2.8,2.0,2.5,2.4,
2.6,2.0,1.8,1.7,2.4,2.3,1.9,2.1,2.0,1.6,
1.4,2.6,2.8,2.8,2.9,2.8,2.6,2.3,2.3,1.7,
1.6,2.4,1.6,2.5,2.2,2.9,2.7,2.3,2.0,2.5,
2.6,2.0,2.5,2.2,2.5,2.6,2.3,2.5,1.9,2.6,
2.4,2.2,2.1,1.9,2.3,2.3,2.0,2.8,2.9,2.7,
2.5,2.7,2.8,2.4,2.9,2.3,2.2,2.4,2.0,2.5,
2.6,2.5,2.3,1.9,2.4,2.0,1.7,1.9,1.9,2.2,
2.1,2.8,2.6,2.4,2.6,2.3,2.2,2.5,2.4,2.2,
2.0,1.8,1.9,2.3,2.1,1.7,2.3,1.6,2.1,2.9,
2.9,2.7,2.8,2.4,2.4,2.9,2.7,2.9,2.4,2.9,
2.2,2.0,2.5,2.6,2.1,1.8,1.9,1.7,2.0,2.3,
2.1,1.9,2.3,2.4,1.9,2.5,2.8,3.0,2.5,2.8,
2.4,3.1,1.9,2.2,2.1,2.4,2.2,2.6,1.9,2.4,
1.8,2.9,2.1,2.6,2.8,2.8,2.7,2.9,2.9,2.2,
3.2,2.0,2.3,1.8,2.6,2.1,2.4,2.7,2.8,2.3,
2.6,1.9,2.2,2.3,2.2,2.2,2.0,2.9,2.6,2.7,
2.0,2.8,2.4,2.5,2.3,2.2,2.6,2.8,2.0,2.6,
2.2,2.4,2.3,2.5,2.1,2.0,2.6,2.3,2.8,2.4,
2.3,2.9,2.1,2.3,2.4,3.0,2.8,1.9,1.9,1.9,
2.3,2.8,2.5,2.4,2.4,2.3,2.2,2.5,2.7,2.8,
2.0,2.2,2.5,2.2,2.0,2.2,2.9,2.2,2.8,2.7,
1.0,.9,.85,.8,1.1,.95,.9,.85,.75,.65,
1.3,1.2,1.1,1.3,1.2,1.0,.8,.6,1.2,1.2,
2.2,2.0,1.9,1.7,1.6,1.5,1.3,2.6,2.7,2.4,
2.4,2.2,2.0,1.8,1.9,1.7,2.6,2.8,2.6,2.3,
2.5,2.3,1.9,2.2,1.7,2.0,2.0,2.7,2.8,2.5,
2.3,1.9,2.0,1.8,2.0,2.1,2.4,2.6,2.5,2.2,
2.2,2.3,1.9,1.7,2.4,2.5,2.7,2.8,2.5,2.4,
2.1,1.8,2.0,2.5,2.3,2.6,2.7,1.9,2.1,2.0,
1.7,1.9,1.8,2.0,2.2,2.1,2.3,2.5,2.6,2.4,
1.8,1.7,1.6,1.5,1.6,1.5,1.4,1.3,1.2,1.5,
1.9,1.7,1.8,1.6,1.7,1.5,1.6,1.4,1.3,1.7,
2.0,1.8,1.7,1.6,1.5,1.5,1.4,1.4,1.2,1.1
];

/* ---------- layout and palette (not data) ---------- */
const boxes = [
  {l:74,r:498,t:29,b:396,cl:515,cr:533,yl:33,cbl:567},
  {l:678,r:1101,t:29,b:396,cl:1120,cr:1138,yl:637,cbl:1168},
  {l:74,r:498,t:481,b:848,cl:515,cr:533,yl:21,cbl:567},
  {l:678,r:1101,t:481,b:848,cl:1120,cr:1138,yl:623,cbl:1177},
  {l:74,r:498,t:932,b:1299,cl:515,cr:533,yl:33,cbl:567},
  {l:678,r:1101,t:932,b:1299,cl:1120,cr:1138,yl:623,cbl:1168},
  {l:376,r:799,t:1384,b:1751,cl:817,cr:835,yl:323,cbl:868}
];
const viridisStops = ['#440154','#482475','#414487','#355f8d','#2a788e','#21918c','#22a884','#44bf70','#7ad151','#bddf26','#fde725'];
const SVG_NS = 'http://www.w3.org/2000/svg';
const fig = document.getElementById('figure');
const defs = document.getElementById('defs');

function hexToRgb(h){return [parseInt(h.slice(1,3),16),parseInt(h.slice(3,5),16),parseInt(h.slice(5,7),16)];}
function viridis(t){
  t=Math.max(0,Math.min(1,t));
  const p=t*(viridisStops.length-1), i=Math.min(Math.floor(p),viridisStops.length-2), f=p-i;
  const a=hexToRgb(viridisStops[i]), b=hexToRgb(viridisStops[i+1]);
  return 'rgb('+a.map((v,k)=>Math.round(v+(b[k]-v)*f)).join(',')+')';
}
function svgEl(tag,attrs,parent){
  const el=document.createElementNS(SVG_NS,tag);
  for(const k in attrs){el.setAttribute(k,attrs[k]);}
  parent.appendChild(el);
  return el;
}
function fmt(v,dec){
  const s=Math.abs(v).toFixed(dec);
  return (v<0?'\u2212':'')+s;
}
function addSpan(parent,txt,size,dy,style){
  const s=document.createElementNS(SVG_NS,'tspan');
  s.textContent=txt;
  s.setAttribute('font-size',size);
  if(dy){s.setAttribute('dy',dy);}
  if(style){s.setAttribute('font-style',style);}
  parent.appendChild(s);
  return s;
}

function drawPanel(idx,title,xr,yr,cbMax,lineEnd,xTicks,yTicks,cbTicks,xDec,yDec,cbDec,offsetText,xs,ys,ds){
  const B=boxes[idx];
  const gid='viridis-'+idx;
  const sx=v=>B.l+(v-xr[0])/(xr[1]-xr[0])*(B.r-B.l);
  const sy=v=>B.b-(v-yr[0])/(yr[1]-yr[0])*(B.b-B.t);
  const sc=v=>B.b-v/cbMax*(B.b-B.t);

  const g=svgEl('g',{},fig);
  
  

  const clipId='clip-'+idx;
  const clip=svgEl('clipPath',{id:clipId},defs);
  svgEl('rect',{x:B.l,y:B.t,width:B.r-B.l,height:B.b-B.t},clip);

  const plot=svgEl('g',{'clip-path':'url(#'+clipId+')'},g);
  
  

  const x3=sx(3), y08=sy(0.8), xe=sx(lineEnd[0]), ye=sy(lineEnd[1]);
  const region=svgEl('polygon',{points:x3+','+B.b+' '+x3+','+y08+' '+xe+','+ye+' '+xe+','+B.b,fill:'#e8e8e8'},plot);
  
  

  const n=Math.min(xs.length,ys.length,ds.length);
  for(let i=0;i<n;i++){
    const c=svgEl('circle',{cx:sx(xs[i]),cy:sy(ys[i]),r:3.4,fill:viridis(ds[i]/cbMax)},plot);
    
    
  }

  const bound=svgEl('polyline',{points:x3+','+B.b+' '+x3+','+y08+' '+xe+','+ye,fill:'none',stroke:'#ff0000','stroke-width':1.4},plot);
  
  

  const frame=svgEl('rect',{x:B.l,y:B.t,width:B.r-B.l,height:B.b-B.t,fill:'none',stroke:'#222','stroke-width':1.5},g);
  
  

  const tt=svgEl('text',{x:(B.l+B.r)/2,y:B.t-4,'text-anchor':'middle',class:'title'},g);
  tt.textContent=title;
  
  

  xTicks.forEach(v=>{
    const t=svgEl('text',{x:sx(v),y:B.b+19,'text-anchor':'middle',class:'tick'},g);
    t.textContent=fmt(v,xDec);
    
    
  });
  yTicks.forEach(v=>{
    const t=svgEl('text',{x:B.l-5,y:sy(v)+5.5,'text-anchor':'end',class:'tick'},g);
    t.textContent=fmt(v,yDec);
    
    
  });

  const cx=(B.l+B.r)/2;
  const num=svgEl('text',{x:cx,y:B.b+35,'text-anchor':'middle',class:'axis-label'},g);
  
  
  addSpan(num,'H',12);
  addSpan(num,'\u03b4A',7,3);
  addSpan(num,' + ',12,-3,'normal');
  addSpan(num,'H',12);
  addSpan(num,'\u03b3A',7,3);
  const bar=svgEl('line',{x1:cx-28,x2:cx+28,y1:B.b+41,y2:B.b+41,stroke:'#000','stroke-width':1.5},g);
  
  
  const den=svgEl('text',{x:cx,y:B.b+54,'text-anchor':'middle',class:'tick'},g);
  den.textContent='2';
  
  

  const my=(B.t+B.b)/2;
  const yt=svgEl('text',{transform:'translate('+(B.yl+6)+','+my+') rotate(-90)','text-anchor':'middle',class:'axis-label'},g);
  
  
  addSpan(yt,'log W',18);
  addSpan(yt,'H\u03b1',11,4);

  const grad=svgEl('linearGradient',{id:gid,x1:0,y1:1,x2:0,y2:0},defs);
  viridisStops.forEach((s,i)=>{svgEl('stop',{offset:i/(viridisStops.length-1),'stop-color':s},grad);});
  const cb=svgEl('rect',{x:B.cl,y:B.t,width:B.cr-B.cl,height:B.b-B.t,fill:'url(#'+gid+')'},g);
  
  

  cbTicks.forEach(v=>{
    const t=svgEl('text',{x:B.cr+4.5,y:sc(v)+5,class:'cb-tick'},g);
    t.textContent=fmt(v,cbDec);
    
    
  });

  const off=svgEl('text',{x:(B.cl+B.cr)/2,y:B.t-1.5,'text-anchor':'middle',class:'offset'},g);
  
  
  addSpan(off,offsetText[0],8.5);
  addSpan(off,offsetText[1],6,-3);

  const cl=svgEl('text',{transform:'translate('+(B.cbl+6)+','+my+') rotate(-90)','text-anchor':'middle',class:'cb-label'},g);
  
  
  addSpan(cl,'d',15);
  addSpan(cl,'tc',10,3);
  addSpan(cl,' [spaxel]',15,-3);
}

const off1 = ['\u00d710','1'];
drawPanel(0,p1Title,p1XRange,p1YRange,p1CbMax,p1LineEnd,p1XTicks,p1YTicks,p1CbTicks,0,1,1,off1,p1X,p1Y,p1D);
drawPanel(1,p2Title,p2XRange,p2YRange,p2CbMax,p2LineEnd,p2XTicks,p2YTicks,p2CbTicks,0,0,1,off1,p2X,p2Y,p2D);
drawPanel(2,p3Title,p3XRange,p3YRange,p3CbMax,p3LineEnd,p3XTicks,p3YTicks,p3CbTicks,0,1,1,off1,p3X,p3Y,p3D);
drawPanel(3,p4Title,p4XRange,p4YRange,p4CbMax,p4LineEnd,p4XTicks,p4YTicks,p4CbTicks,0,1,2,off1,p4X,p4Y,p4D);
drawPanel(4,p5Title,p5XRange,p5YRange,p5CbMax,p5LineEnd,p5XTicks,p5YTicks,p5CbTicks,0,1,1,off1,p5X,p5Y,p5D);
drawPanel(5,p6Title,p6XRange,p6YRange,p6CbMax,p6LineEnd,p6XTicks,p6YTicks,p6CbTicks,0,1,1,off1,p6X,p6Y,p6D);
drawPanel(6,p7Title,p7XRange,p7YRange,p7CbMax,p7LineEnd,p7XTicks,p7YTicks,p7CbTicks,0,1,1,['\u00d710','0'],p7X,p7Y,p7D);
</script>
</body>
</html>
